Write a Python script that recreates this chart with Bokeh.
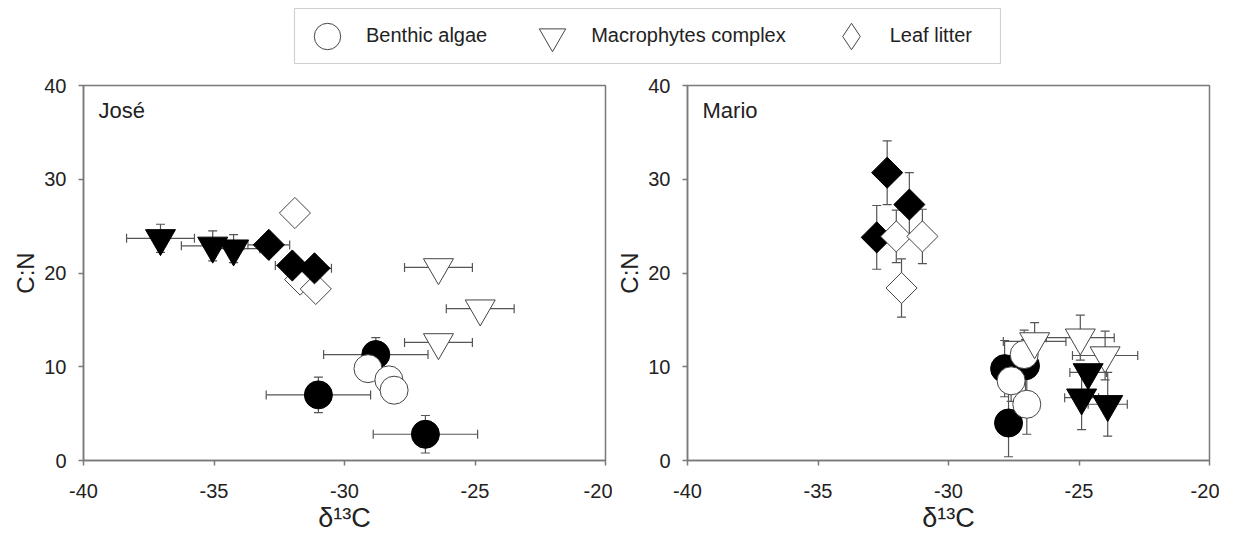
import numpy as np
from bokeh.plotting import figure
from bokeh.models import (Range1d, ColumnDataSource, Whisker, TeeHead, Label, Legend,
                          LegendItem, FixedTicker, BoxAnnotation)
from bokeh.layouts import column, row
from bokeh.embed import file_html
from bokeh.resources import INLINE

FONT = "Liberation Sans"

# ---------------- data: José ----------------
jose_algae_fill_x = [-28.8, -31.0, -26.9]
jose_algae_fill_y = [11.3, 7.0, 2.8]
jose_algae_fill_xerr = [2.0, 2.0, 2.0]
jose_algae_fill_yerr = [1.8, 1.9, 2.0]
jose_algae_open_x = [-29.1, -28.3, -28.1]
jose_algae_open_y = [9.8, 8.6, 7.5]
jose_algae_open_xerr = [0.0, 0.0, 0.0]
jose_algae_open_yerr = [0.0, 0.0, 0.0]
jose_macro_fill_x = [-37.05, -35.05, -34.25]
jose_macro_fill_y = [23.7, 22.9, 22.6]
jose_macro_fill_xerr = [1.3, 1.2, 1.0]
jose_macro_fill_yerr = [1.5, 1.6, 1.5]
jose_macro_open_x = [-26.4, -24.8, -26.4]
jose_macro_open_y = [20.6, 16.2, 12.6]
jose_macro_open_xerr = [1.3, 1.3, 1.3]
jose_macro_open_yerr = [0.0, 0.0, 0.0]
jose_litter_fill_x = [-32.9, -32.0, -31.15]
jose_litter_fill_y = [23.0, 20.8, 20.5]
jose_litter_fill_xerr = [0.8, 0.65, 0.65]
jose_litter_fill_yerr = [0.0, 0.0, 0.0]
jose_litter_open_x = [-31.9, -31.7, -31.1]
jose_litter_open_y = [26.4, 19.3, 18.3]
jose_litter_open_xerr = [0.0, 0.0, 0.0]
jose_litter_open_yerr = [0.0, 0.0, 0.0]

# ---------------- data: Mario ----------------
mario_algae_fill_x = [-27.85, -27.05, -27.7]
mario_algae_fill_y = [9.8, 10.1, 4.0]
mario_algae_fill_xerr = [0.3, 0.3, 0.3]
mario_algae_fill_yerr = [3.0, 2.8, 3.6]
mario_algae_open_x = [-27.1, -27.6, -27.0]
mario_algae_open_y = [11.3, 8.5, 6.0]
mario_algae_open_xerr = [0.4, 0.3, 0.3]
mario_algae_open_yerr = [2.6, 2.2, 3.2]
mario_macro_fill_x = [-24.65, -24.9, -23.9]
mario_macro_fill_y = [9.4, 6.7, 6.0]
mario_macro_fill_xerr = [0.7, 0.65, 0.75]
mario_macro_fill_yerr = [0.6, 3.4, 3.4]
mario_macro_open_x = [-26.7, -24.95, -24.0]
mario_macro_open_y = [12.7, 13.1, 11.2]
mario_macro_open_xerr = [1.2, 1.3, 1.25]
mario_macro_open_yerr = [2.0, 2.4, 2.6]
mario_litter_fill_x = [-32.35, -31.5, -32.75]
mario_litter_fill_y = [30.7, 27.3, 23.8]
mario_litter_fill_xerr = [0.0, 0.0, 0.0]
mario_litter_fill_yerr = [3.4, 3.4, 3.4]
mario_litter_open_x = [-32.0, -31.0, -31.8]
mario_litter_open_y = [23.9, 23.9, 18.4]
mario_litter_open_xerr = [0.0, 0.0, 0.0]
mario_litter_open_yerr = [2.8, 2.9, 3.1]

x_ticks = [-40, -35, -30, -25, -20]
y_ticks = [0, 10, 20, 30, 40]
legend_labels = ["Benthic algae", "Macrophytes complex", "Leaf litter"]

EB = "#555555"
AX = "#7a7a7a"
TXT = "#222222"
OPEN_LINE = "#444444"


def add_series(p, xs, ys, xerr, yerr, marker, size, fill, line, angle=0.0):
    src = ColumnDataSource(dict(
        x=xs, y=ys,
        xl=[a - b for a, b in zip(xs, xerr)], xu=[a + b for a, b in zip(xs, xerr)],
        yl=[a - b for a, b in zip(ys, yerr)], yu=[a + b for a, b in zip(ys, yerr)],
    ))
    for dim, base, lo, hi in (("width", "y", "xl", "xu"), ("height", "x", "yl", "yu")):
        w = Whisker(source=src, base=base, lower=lo, upper=hi, dimension=dim,
                    line_color=EB, line_width=1.2,
                    lower_head=TeeHead(size=9, line_color=EB, line_width=1.2),
                    upper_head=TeeHead(size=9, line_color=EB, line_width=1.2))
        p.add_layout(w)
    p.scatter("x", "y", source=src, marker=marker, size=size, fill_color=fill,
              line_color=line, line_width=1, angle=angle)


def make_panel(name, series, min_left, min_right):
    p = figure(frame_width=522, frame_height=375,
               x_range=Range1d(-40, -20), y_range=Range1d(0, 40),
               output_backend="svg", toolbar_location=None,
               min_border_left=min_left, min_border_right=min_right,
               min_border_top=19, min_border_bottom=80,
               background_fill_color="white", border_fill_color="white")
    p.grid.visible = False
    p.outline_line_color = AX
    p.outline_line_width = 1.5
    p.xaxis.ticker = FixedTicker(ticks=x_ticks)
    p.yaxis.ticker = FixedTicker(ticks=y_ticks)
    p.xaxis.major_label_overrides = {t: str(t) for t in x_ticks}
    for ax in (p.xaxis[0], p.yaxis[0]):
        ax.axis_line_color = AX
        ax.axis_line_width = 1.5
        ax.major_tick_line_color = AX
        ax.major_tick_line_width = 1.5
        ax.major_tick_out = 5
        ax.major_tick_in = 0
        ax.minor_tick_line_color = None
        ax.major_label_text_font = FONT
        ax.major_label_text_font_size = "20px"
        ax.major_label_text_color = TXT
        ax.axis_label_text_font = FONT
        ax.axis_label_text_font_style = "normal"
        ax.axis_label_text_color = TXT
        ax.axis_label_standoff = 2
    p.xaxis.axis_label_text_font_size = "27px"
    p.yaxis.axis_label_text_font_size = "24px"
    p.xaxis.major_label_standoff = 18
    p.yaxis.major_label_standoff = 12
    p.xaxis.axis_label = "δ¹³C"
    p.yaxis.axis_label = "C:N"
    for s in series:
        add_series(p, *s)
    p.add_layout(Label(x=15, y=350, x_units="screen", y_units="screen", text=name,
                       text_font=FONT, text_font_size="22px", text_color=TXT,
                       text_baseline="middle"))
    return p


DIA = np.pi / 4
jose_series = [
    (jose_algae_fill_x, jose_algae_fill_y, jose_algae_fill_xerr, jose_algae_fill_yerr, "circle", 28, "black", "black"),
    (jose_algae_open_x, jose_algae_open_y, jose_algae_open_xerr, jose_algae_open_yerr, "circle", 28, "white", OPEN_LINE),
    (jose_macro_open_x, jose_macro_open_y, jose_macro_open_xerr, jose_macro_open_yerr, "inverted_triangle", 30, "white", OPEN_LINE),
    (jose_macro_fill_x, jose_macro_fill_y, jose_macro_fill_xerr, jose_macro_fill_yerr, "inverted_triangle", 30, "black", "black"),
    (jose_litter_open_x, jose_litter_open_y, jose_litter_open_xerr, jose_litter_open_yerr, "square", 22, "white", OPEN_LINE, DIA),
    (jose_litter_fill_x, jose_litter_fill_y, jose_litter_fill_xerr, jose_litter_fill_yerr, "square", 22, "black", "black", DIA),
]
mario_series = [
    (mario_algae_fill_x, mario_algae_fill_y, mario_algae_fill_xerr, mario_algae_fill_yerr, "circle", 28, "black", "black"),
    (mario_algae_open_x, mario_algae_open_y, mario_algae_open_xerr, mario_algae_open_yerr, "circle", 28, "white", OPEN_LINE),
    (mario_macro_open_x, mario_macro_open_y, mario_macro_open_xerr, mario_macro_open_yerr, "inverted_triangle", 30, "white", OPEN_LINE),
    (mario_macro_fill_x, mario_macro_fill_y, mario_macro_fill_xerr, mario_macro_fill_yerr, "inverted_triangle", 30, "black", "black"),
    (mario_litter_fill_x, mario_litter_fill_y, mario_litter_fill_xerr, mario_litter_fill_yerr, "square", 22, "black", "black", DIA),
    (mario_litter_open_x, mario_litter_open_y, mario_litter_open_xerr, mario_litter_open_yerr, "square", 22, "white", OPEN_LINE, DIA),
]

p1 = make_panel("José", jose_series, 83, 7)
p2 = make_panel("Mario", mario_series, 75, 10)

# ---------------- legend strip ----------------
LEG_H = 66
leg = figure(width=1219, height=LEG_H, x_range=Range1d(0, 1219), y_range=Range1d(0, LEG_H),
             output_backend="svg", toolbar_location=None, min_border=0,
             x_axis_location=None, y_axis_location=None)
leg.grid.visible = False
leg.outline_line_color = None
NAN = [float("nan")]
r_c = leg.scatter(x=NAN, y=NAN, marker="circle", size=26, fill_color="white", line_color=OPEN_LINE)
r_t = leg.scatter(x=NAN, y=NAN, marker="inverted_triangle", size=26, fill_color="white", line_color=OPEN_LINE)
r_d = leg.scatter(x=NAN, y=NAN, marker="diamond", size=26, fill_color="white", line_color=OPEN_LINE)
legend = Legend(items=[LegendItem(label=legend_labels[0], renderers=[r_c]),
                       LegendItem(label=legend_labels[1], renderers=[r_t]),
                       LegendItem(label=legend_labels[2], renderers=[r_d])],
                orientation="horizontal", location=(290, -2.5),
                glyph_width=74, glyph_height=66, padding=0, spacing=28, label_standoff=2,
                label_text_font=FONT, label_text_font_size="20px", label_text_color=TXT,
                border_line_color=None, background_fill_alpha=0)
leg.add_layout(legend, "center")
leg.add_layout(BoxAnnotation(left=294, right=1000, bottom=LEG_H - 63, top=LEG_H - 8,
                             fill_alpha=0, line_color="#666666", line_width=1.2))

layout = column(leg, row(p1, p2))
open("out.html", "w").write(file_html(layout, INLINE))
